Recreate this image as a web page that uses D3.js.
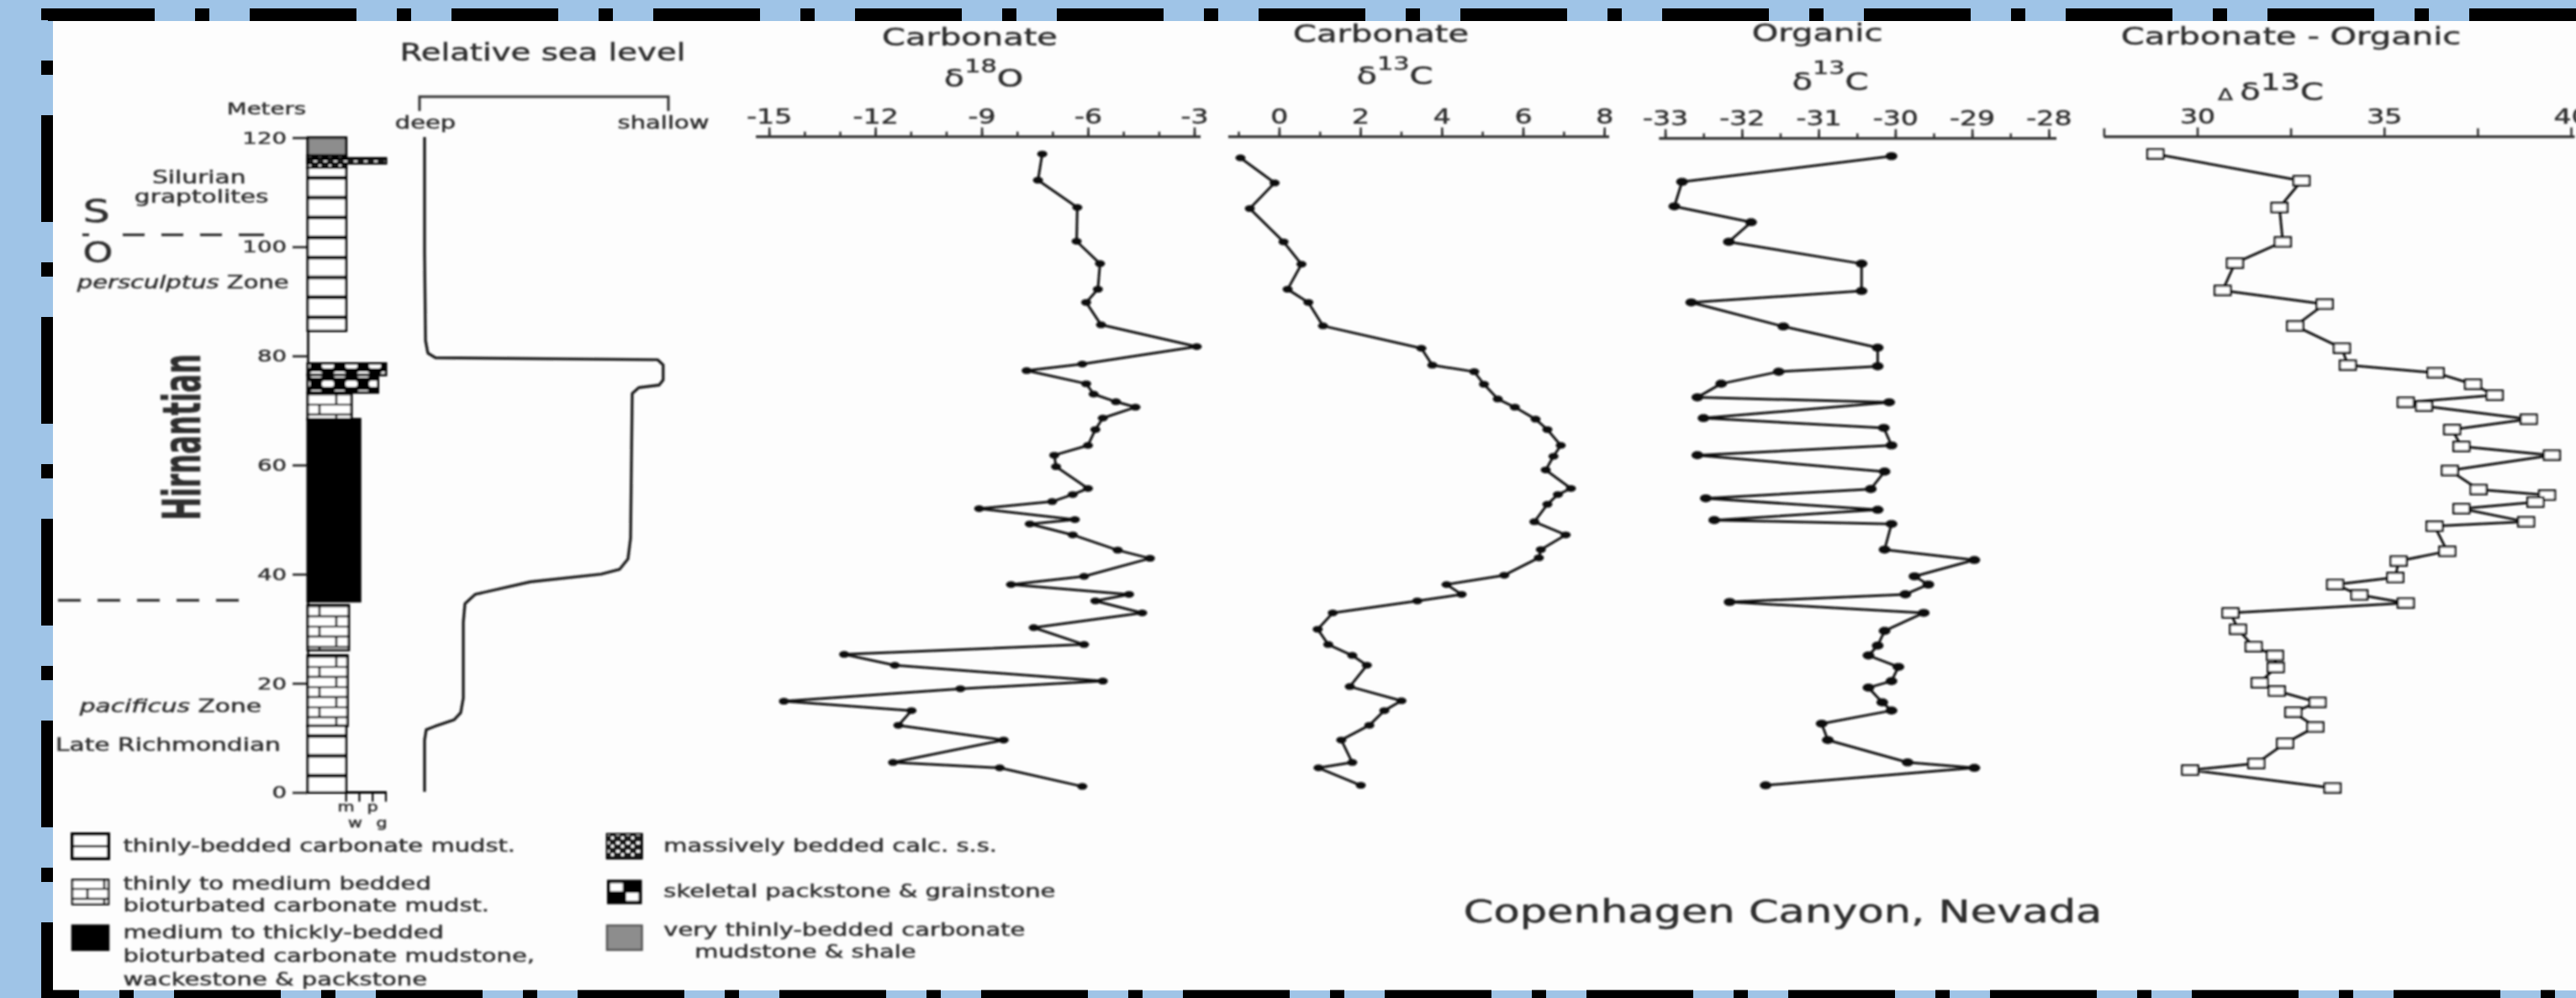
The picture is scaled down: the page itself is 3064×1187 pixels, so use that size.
<!DOCTYPE html>
<html>
<head>
<meta charset="utf-8">
<script src="https://cdn.jsdelivr.net/npm/d3@7"></script>
<style>
  html, body { margin: 0; padding: 0; background: #9fc4e7; }
  svg { display: block; }
  text { font-family: "DejaVu Sans", Verdana, sans-serif; fill: #2e2e2e; stroke: #2e2e2e; stroke-width: 0.45px; }
</style>
</head>
<body>
<svg id="chart" width="3064" height="1187"></svg>
<script>
// ---- data -------------------------------------------------------------
const depthTicks = [0, 20, 40, 60, 80, 100, 120];
const o18Ticks = [-15, -12, -9, -6, -3];
const c13Ticks = [0, 2, 4, 6, 8];
const orgTicks = [-33, -32, -31, -30, -29, -28];
const deltaTicks = [30, 35, 40];
const grainLabels = ['m', 'w', 'p', 'g'];

// [depth m, value]
const carbO18 = [
  [117.0, -7.29], [112.2, -7.41], [107.2, -6.30], [101.0, -6.32], [96.9, -5.66], [92.2, -5.72],
  [89.8, -6.05], [85.7, -5.63], [81.7, -2.93], [78.5, -6.16], [77.3, -7.73], [74.9, -6.05],
  [73.0, -5.84], [71.6, -5.21], [70.6, -4.66], [68.6, -5.58], [66.5, -5.79], [63.6, -6.0],
  [61.8, -6.95], [59.7, -6.90], [55.7, -6.0], [54.6, -6.43], [53.3, -7.01], [52.0, -9.07],
  [50.0, -6.37], [49.2, -7.64], [47.2, -6.43], [44.4, -5.16], [42.9, -4.25], [39.6, -6.11],
  [38.1, -8.17], [36.3, -4.84], [35.1, -5.79], [32.9, -4.47], [30.2, -7.53], [27.1, -6.11],
  [25.3, -12.88], [23.3, -11.45], [20.4, -5.58], [19.0, -9.60], [16.7, -14.58], [15.0, -10.98],
  [12.3, -11.35], [9.6, -8.38], [5.5, -11.5], [4.5, -8.49], [1.1, -6.16]
];
const carbC13 = [
  [116.3, -0.95], [111.7, -0.11], [107.0, -0.72], [100.9, 0.11], [96.8, 0.55], [92.2, 0.21],
  [89.8, 0.72], [85.5, 1.08], [81.4, 3.50], [78.3, 3.77], [77.1, 4.80], [74.8, 5.04],
  [72.1, 5.38], [70.6, 5.80], [68.4, 6.31], [66.5, 6.60], [63.6, 6.93], [61.6, 6.75],
  [59.1, 6.56], [55.7, 7.18], [54.6, 6.86], [52.8, 6.60], [49.6, 6.28], [47.2, 7.05],
  [44.5, 6.44], [43.0, 6.39], [39.8, 5.54], [38.1, 4.12], [36.3, 4.49], [35.1, 3.40],
  [32.9, 1.32], [29.9, 0.95], [27.1, 1.21], [25.1, 1.80], [23.3, 2.16], [19.4, 1.74],
  [16.8, 3.01], [15.0, 2.59], [12.3, 2.22], [9.6, 1.53], [5.5, 1.80], [4.5, 0.97], [1.3, 2.01]
];
const orgC13 = [
  [116.6, -30.05], [111.9, -32.78], [107.4, -32.88], [104.5, -31.88], [100.9, -32.17], [96.9, -30.44],
  [91.9, -30.44], [89.8, -32.66], [85.4, -31.46], [81.5, -30.23], [78.1, -30.23], [77.1, -31.52],
  [74.9, -32.27], [72.4, -32.58], [71.5, -30.08], [68.6, -32.50], [66.8, -30.15], [63.6, -30.05],
  [61.8, -32.58], [58.8, -30.14], [55.6, -30.32], [53.9, -32.47], [51.8, -30.23], [49.9, -32.36],
  [49.2, -30.05], [44.5, -30.14], [42.6, -28.97], [39.6, -29.75], [38.1, -29.57], [36.3, -29.87],
  [34.9, -32.16], [32.9, -29.63], [29.6, -30.14], [26.9, -30.23], [25.1, -30.35], [23.0, -29.96],
  [20.4, -30.05], [19.2, -30.35], [16.5, -30.17], [15.0, -30.05], [12.6, -30.96], [9.6, -30.88],
  [5.5, -29.84], [4.5, -28.97], [1.3, -31.69]
];
const deltaC13 = [
  [117.0, 28.88], [112.1, 32.79], [107.2, 32.20], [100.9, 32.29], [97.0, 31.01], [92.0, 30.68],
  [89.5, 33.41], [85.5, 32.62], [81.4, 33.87], [78.3, 34.03], [76.9, 36.38], [74.8, 37.38],
  [72.8, 37.96], [71.5, 35.58], [70.8, 36.07], [68.4, 38.87], [66.5, 36.82], [63.4, 37.07],
  [61.8, 39.49], [59.0, 36.76], [55.5, 37.53], [54.5, 39.36], [53.2, 39.05], [52.0, 37.07],
  [49.6, 38.80], [48.8, 36.35], [44.2, 36.69], [42.4, 35.39], [39.4, 35.30], [38.1, 33.69],
  [36.2, 34.34], [34.7, 35.58], [32.9, 30.89], [29.9, 31.09], [26.7, 31.51], [25.1, 32.08],
  [22.9, 32.10], [20.1, 31.67], [18.6, 32.13], [16.5, 33.22], [14.7, 32.57], [12.0, 33.16],
  [9.0, 32.35], [5.3, 31.58], [4.1, 29.81], [0.8, 33.62]
];

// relative sea level: [depth m, level] (0 = deep, 1 = shallow)
const seaLevel = [
  [120.1, 0], [99.0, 0], [82.8, 0.004], [80.5, 0.014], [79.66, 0.046], [79.3, 0.986],
  [78.35, 1.01], [75.6, 1.01], [74.65, 0.993], [74.2, 0.907], [73.1, 0.879], [46.6, 0.872],
  [42.8, 0.861], [40.9, 0.826], [40.0, 0.747], [38.6, 0.448], [36.3, 0.214], [34.6, 0.171],
  [31.2, 0.164], [17.3, 0.164], [14.6, 0.153], [13.3, 0.125], [12.1, 0.043], [11.5, 0.007],
  [9.6, 0], [0.1, 0]
];

// lithology: [top m, base m, facies, grain size 0 (m) .. 3 (g)]
const beds = [
  [120, 116.7, 'shale', 0],
  [116.7, 114.5, 'mass', 0],
  [116.2, 115.3, 'mass', 3],
  [114.5, 84.6, 'thin', 0],
  [78.6, 76.5, 'skel', 3],
  [76.5, 73.3, 'skel', 2.4],
  [73.1, 68.4, 'bio', 0.4],
  [68.4, 35.05, 'thick', 1.05],
  [34.3, 26.1, 'bio', 0.2],
  [25.1, 12.2, 'bio', 0.1],
  [12.2, 0, 'thin', 0]
];

const legendLeft = [
  ['thin', ['thinly-bedded carbonate mudst.']],
  ['bio', ['thinly to medium bedded', 'bioturbated carbonate mudst.']],
  ['thick', ['medium to thickly-bedded', 'bioturbated carbonate mudstone,', 'wackestone & packstone']]
];
const legendRight = [
  ['mass', ['massively bedded calc. s.s.']],
  ['skel', ['skeletal packstone & grainstone']],
  ['shale', ['very thinly-bedded carbonate', '\u00a0\u00a0\u00a0\u00a0mudstone & shale']]
];

// ---- setup ------------------------------------------------------------
const W = 3064, H = 1187;
const K = 1.38; // the figure is stretched sideways
const svg = d3.select('#chart');

svg.append('rect').attr('width', W).attr('height', H).attr('fill', '#9fc4e7');
svg.append('rect').attr('x', 63).attr('y', 25).attr('width', W - 63).attr('height', 1153).attr('fill', '#fdfdfd');

const dash = '127 48 17 48';
svg.append('line').attr('x1', 49).attr('x2', W).attr('y1', 17.5).attr('y2', 17.5)
  .attr('stroke', '#000').attr('stroke-width', 15).attr('stroke-dasharray', dash).attr('stroke-dashoffset', 232);
svg.append('line').attr('x1', 56).attr('x2', 56).attr('y1', 10).attr('y2', H)
  .attr('stroke', '#000').attr('stroke-width', 14).attr('stroke-dasharray', dash).attr('stroke-dashoffset', 113);
svg.append('line').attr('x1', 49).attr('x2', W).attr('y1', 1185).attr('y2', 1185)
  .attr('stroke', '#000').attr('stroke-width', 15).attr('stroke-dasharray', dash).attr('stroke-dashoffset', 82);

const defs = svg.append('defs');
defs.append('filter').attr('id', 'soft').append('feGaussianBlur').attr('stdDeviation', 0.8);

const root = svg.append('g').attr('filter', 'url(#soft)');

function stretch(sel, k = K) {
  sel.each(function () {
    const len = this.getComputedTextLength();
    d3.select(this).attr('textLength', (len * k).toFixed(1)).attr('lengthAdjust', 'spacingAndGlyphs');
  });
  return sel;
}
function txt(x, yy, s, size, anchor = 'middle') {
  return stretch(root.append('text').attr('x', x).attr('y', yy)
    .attr('font-size', size).attr('text-anchor', anchor).text(s));
}

// ---- scales -----------------------------------------------------------
const y = d3.scaleLinear().domain([0, 120]).range([942.5, 163.7]);
const xO18 = d3.scaleLinear().domain([-15, -3]).range([914.7, 1420.5]);
const xC13 = d3.scaleLinear().domain([0, 8]).range([1521.4, 1908.2]);
const xOrg = d3.scaleLinear().domain([-33, -28]).range([1980.6, 2436.9]);
const xDel = d3.scaleLinear().domain([30, 40]).range([2613.5, 3058]);
const xSea = d3.scaleLinear().domain([0, 1]).range([505, 786]);
const colLeft = 366;
const gx = d3.scaleLinear().domain([0, 3]).range([411.7, 459]);

// ---- patterns ---------------------------------------------------------
const pBio = defs.append('pattern').attr('id', 'p-bio').attr('patternUnits', 'userSpaceOnUse')
  .attr('x', colLeft).attr('y', 0).attr('width', 46).attr('height', 24);
pBio.append('rect').attr('width', 46).attr('height', 24).attr('fill', '#fff');
pBio.append('path').attr('d', 'M0,1H46M0,13H46M14,1V13M34,13V25')
  .attr('stroke', '#000').attr('stroke-width', 2.6);

const pSkel = defs.append('pattern').attr('id', 'p-skel').attr('patternUnits', 'userSpaceOnUse')
  .attr('x', colLeft).attr('y', 0).attr('width', 28).attr('height', 22);
pSkel.append('rect').attr('width', 28).attr('height', 22).attr('fill', '#000');
[[3, 2], [17, 13], [-11, 13]].forEach(([a, b]) =>
  pSkel.append('rect').attr('x', a).attr('y', b).attr('width', 14).attr('height', 7).attr('rx', 2.5).attr('fill', '#fff'));

const pMass = defs.append('pattern').attr('id', 'p-mass').attr('patternUnits', 'userSpaceOnUse')
  .attr('width', 12).attr('height', 10);
pMass.append('rect').attr('width', 12).attr('height', 10).attr('fill', '#1b1b1b');
pMass.append('rect').attr('x', 1).attr('y', 1).attr('width', 4).attr('height', 3).attr('fill', '#fff');
pMass.append('rect').attr('x', 7).attr('y', 5).attr('width', 3).attr('height', 3).attr('fill', '#fff');

const faciesFill = { shale: '#8d8d8d', mass: 'url(#p-mass)', thin: '#fff', skel: 'url(#p-skel)', bio: 'url(#p-bio)', thick: '#000' };

// ---- depth axis & lithology column ------------------------------------
const depthAxis = root.append('g').attr('transform', `translate(${colLeft},0)`)
  .call(d3.axisLeft(y).tickValues(depthTicks).tickSize(18).tickPadding(7).tickSizeOuter(0));
depthAxis.select('.domain').attr('stroke', '#222').attr('stroke-width', 3);
depthAxis.selectAll('.tick line').attr('stroke', '#222').attr('stroke-width', 2.6);
depthAxis.selectAll('.tick text').attr('font-size', 20).attr('fill', '#2e2e2e')
  .attr('font-family', '"DejaVu Sans", Verdana, sans-serif');
stretch(depthAxis.selectAll('.tick text'));

const col = root.append('g');
beds.forEach(([top, base, facies, grain]) => {
  col.append('rect').attr('x', colLeft).attr('y', y(top))
    .attr('width', gx(grain) - colLeft).attr('height', y(base) - y(top))
    .attr('fill', faciesFill[facies]).attr('stroke', '#000').attr('stroke-width', 3);
  if (facies === 'thin') {
    d3.range(y(top) + 12, y(base) - 6, 23.7).forEach(v =>
      col.append('line').attr('x1', colLeft).attr('x2', gx(grain)).attr('y1', v).attr('y2', v)
        .attr('stroke', '#000').attr('stroke-width', 4.5));
  }
});

// grain size scale under the column
col.append('line').attr('x1', colLeft).attr('x2', gx(3) + 1).attr('y1', y(0)).attr('y2', y(0))
  .attr('stroke', '#000').attr('stroke-width', 3);
grainLabels.forEach((g, i) => {
  col.append('line').attr('x1', gx(i)).attr('x2', gx(i)).attr('y1', y(0)).attr('y2', y(0) + 11)
    .attr('stroke', '#000').attr('stroke-width', 2.2);
  txt(gx(i) + (i % 2 ? -5 : 0), i % 2 ? 984 : 965, g, 15);
});

txt(317, 136, 'Meters', 20);

// ---- relative sea level ------------------------------------------------
txt(645.5, 72, 'Relative sea level', 28);
root.append('path').attr('d', `M${xSea(0) - 6},132V115H${xSea(1) + 9}V132`)
  .attr('fill', 'none').attr('stroke', '#333').attr('stroke-width', 3);
txt(506, 153, 'deep', 21);
txt(789, 153, 'shallow', 21);
root.append('path').datum(seaLevel)
  .attr('d', d3.line().x(d => xSea(d[1])).y(d => y(d[0])))
  .attr('fill', 'none').attr('stroke', '#1e1e1e').attr('stroke-width', 3.4).attr('stroke-linejoin', 'round');

// ---- stratigraphic annotations ---------------------------------------
txt(236.8, 217.5, 'Silurian', 21.5);
txt(239.7, 241, 'graptolites', 21.5);
txt(114.8, 264, 'S', 37);
txt(116.5, 312, 'O', 33);
root.append('line').attr('x1', 98).attr('x2', 316).attr('y1', y(102.2)).attr('y2', y(102.2))
  .attr('stroke', '#222').attr('stroke-width', 3).attr('stroke-dasharray', '8 40 26 20 26 20 26 20 30');
root.append('line').attr('x1', 69).attr('x2', 287).attr('y1', y(35.2)).attr('y2', y(35.2))
  .attr('stroke', '#222').attr('stroke-width', 3).attr('stroke-dasharray', '27 20');

const pers = root.append('text').attr('x', 91.8).attr('y', 342.5).attr('font-size', 21);
pers.append('tspan').attr('font-style', 'italic').text('persculptus');
pers.append('tspan').text(' Zone');
stretch(pers);
const paci = root.append('text').attr('x', 94.7).attr('y', 847).attr('font-size', 21.5);
paci.append('tspan').attr('font-style', 'italic').text('pacificus');
paci.append('tspan').text(' Zone');
stretch(paci);
txt(66, 893, 'Late Richmondian', 21.5, 'start');

root.append('text').attr('transform', 'translate(238,520) rotate(-90)')
  .attr('text-anchor', 'middle').attr('font-size', 62).attr('font-weight', 'bold')
  .attr('font-family', '"Liberation Sans", Arial, sans-serif').attr('fill', '#111')
  .attr('textLength', 198).attr('lengthAdjust', 'spacingAndGlyphs').text('Hirnantian');

// ---- isotope panels ---------------------------------------------------
function isoAxis(scale, yPos, lo, hi, minor, major, minorSize, majorSize) {
  const g = root.append('g').attr('transform', `translate(0,${yPos})`);
  g.append('line').attr('x1', scale(lo)).attr('x2', scale(hi))
    .attr('stroke', '#333').attr('stroke-width', 3.2);
  const mi = g.append('g').call(d3.axisTop(scale).tickValues(minor).tickSize(minorSize).tickFormat(''));
  const ma = g.append('g').call(d3.axisTop(scale).tickValues(major).tickSize(majorSize)
    .tickPadding(5).tickFormat(d => String(d)));
  g.selectAll('.domain').remove();
  g.selectAll('.tick line').attr('stroke', '#333').attr('stroke-width', 2.6);
  ma.selectAll('.tick text').attr('font-size', 24).attr('fill', '#2e2e2e')
    .attr('font-family', '"DejaVu Sans", Verdana, sans-serif');
  stretch(ma.selectAll('.tick text'));
}

function isoTitle(cx, base, pre, sup, el, rise, supSize = 22) {
  const t = root.append('text').attr('x', cx).attr('y', base).attr('text-anchor', 'middle').attr('font-size', 29);
  if (pre) t.append('tspan').attr('font-size', 19).text(pre + ' ');
  t.append('tspan').text('δ');
  t.append('tspan').attr('font-size', supSize).attr('dy', -rise).text(sup);
  t.append('tspan').attr('dy', rise).text(el);
  stretch(t);
}

function series(data, scale, marker) {
  const g = root.append('g');
  g.append('path').datum(data)
    .attr('d', d3.line().x(d => scale(d[1])).y(d => y(d[0])))
    .attr('fill', 'none').attr('stroke', '#111').attr('stroke-width', 3).attr('stroke-linejoin', 'round');
  if (marker === 'square') {
    g.selectAll('rect').data(data).join('rect')
      .attr('x', d => scale(d[1]) - 9.5).attr('y', d => y(d[0]) - 5.5)
      .attr('width', 19).attr('height', 11)
      .attr('fill', '#fff').attr('stroke', '#111').attr('stroke-width', 2.6);
  } else {
    g.selectAll('ellipse').data(data).join('ellipse')
      .attr('cx', d => scale(d[1])).attr('cy', d => y(d[0]))
      .attr('rx', marker === 'big' ? 7 : 6).attr('ry', marker === 'big' ? 4.8 : 4)
      .attr('fill', '#111');
  }
}

// Carbonate δ18O
txt(1153.5, 53.6, 'Carbonate', 29);
isoTitle(1170, 103, null, '18', 'O', 17);
isoAxis(xO18, 162.6, -15.37, -2.82, d3.range(-15, -2.5, 1), o18Ticks, 6, 11);
series(carbO18, xO18, 'dot');

// Carbonate δ13C
txt(1642.6, 49.8, 'Carbonate', 29);
isoTitle(1659, 99.5, null, '13', 'C', 17);
isoAxis(xC13, 162.6, -1.25, 8.12, d3.range(-1, 8.5, 1), c13Ticks, 6, 11);
series(carbC13, xC13, 'dot');

// Organic δ13C
txt(2161.6, 49, 'Organic', 29);
isoTitle(2177, 107, null, '13', 'C', 19);
isoAxis(xOrg, 164.6, -33.08, -27.9, d3.range(-33, -27.9, 0.5), orgTicks, 6, 11);
series(orgC13, xOrg, 'big');

// Carbonate - Organic Δδ13C
txt(2725, 52.5, 'Carbonate - Organic', 29);
isoTitle(2701, 118.6, 'Δ', '13', 'C', 12, 27);
isoAxis(xDel, 162.6, 27.5, 40.1, [27.5, 32.5, 37.5], deltaTicks, 10, 11);
series(deltaC13, xDel, 'square');

// ---- legend ----------------------------------------------------------
function icon(x, yy, w, h, facies) {
  const g = root.append('g');
  if (facies === 'thin') {
    g.append('rect').attr('x', x).attr('y', yy).attr('width', w).attr('height', h)
      .attr('fill', '#fff').attr('stroke', '#000').attr('stroke-width', 4);
    g.append('line').attr('x1', x).attr('x2', x + w).attr('y1', yy + h / 2).attr('y2', yy + h / 2)
      .attr('stroke', '#000').attr('stroke-width', 3);
  } else if (facies === 'skel') {
    g.append('rect').attr('x', x).attr('y', yy).attr('width', w).attr('height', h).attr('fill', '#000');
    g.append('rect').attr('x', x + 4).attr('y', yy + 4).attr('width', w / 2 - 6).attr('height', h / 2 - 5).attr('fill', '#fff');
    g.append('rect').attr('x', x + w / 2 + 2).attr('y', yy + h / 2 + 1).attr('width', w / 2 - 6).attr('height', h / 2 - 5).attr('fill', '#fff');
  } else {
    g.append('rect').attr('x', x).attr('y', yy).attr('width', w).attr('height', h)
      .attr('fill', faciesFill[facies]).attr('stroke', facies === 'shale' ? '#555' : '#000').attr('stroke-width', 2.5);
  }
}
function legendColumn(items, iconX, iconW, textX) {
  items.forEach(([facies, lines], i) => {
    const top = 992 + i * 54.4;
    icon(iconX, top, iconW, 29, facies);
    const first = top + (lines.length === 1 ? 21 : lines.length === 2 ? 12 : 15);
    const step = lines.length === 3 ? 28 : 26;
    lines.forEach((s, j) => txt(textX, first + j * step, s, 21, 'start'));
  });
}
legendColumn(legendLeft, 86, 43, 146.4);
legendColumn(legendRight, 722, 41.5, 789.3);

txt(1740.8, 1096.8, 'Copenhagen Canyon, Nevada', 37, 'start');
</script>
</body>
</html>
